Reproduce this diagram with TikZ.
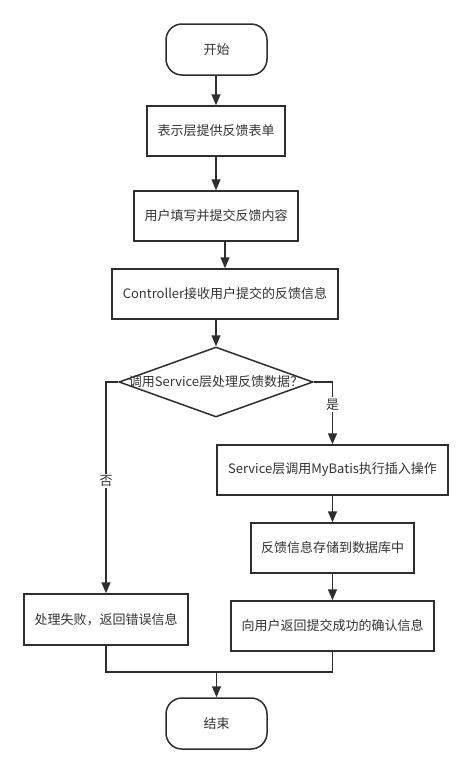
\documentclass[tikz,border=0pt]{standalone}
\usepackage{fontspec}
\newfontfamily\cjk{Noto Sans CJK SC}
\usepackage{tikz}
\usetikzlibrary{arrows.meta,shapes.geometric}
\definecolor{fcInk}{HTML}{333333}
\definecolor{fcLine}{HTML}{2E2E2E}
\tikzset{
  fc diagram/.style={x=1pt, y=-1pt, font=\cjk\fontsize{13}{15}\selectfont,
    text=fcInk},
  fc box/.style={draw=fcLine, fill=white, line width=1.5pt,
    minimum height=50pt, inner sep=0pt, align=center},
  fc term/.style={fc box, rounded corners=16pt, minimum width=101pt,
    minimum height=51pt},
  fc decision/.style={diamond, draw=fcLine, fill=white, line width=1.5pt,
    minimum width=194pt, minimum height=70pt, inner sep=0pt},
  fc arrow/.style={-{Triangle[length=11pt,width=9pt]}, draw=fcLine,
    line width=1.5pt},
  fc line/.style={draw=fcLine, line width=1.5pt},
  fc label/.style={fill=white, inner sep=1.5pt}
}
\begin{document}
\begin{tikzpicture}[fc diagram]
\useasboundingbox (0,0) rectangle (472,774);
% main column
\node[fc term] (start) at (216.5,49.5) {开始};
\node[fc box, minimum width=138pt] (show) at (216,131) {表示层提供反馈表单};
\node[fc box, minimum width=164pt] (fill) at (216,216) {用户填写并提交反馈内容};
\node[fc box, minimum width=226pt] (ctrl) at (225,294) {Controller接收用户提交的反馈信息};
\node[fc decision, label={center:调用Service层处理反馈数据？}] (check) at (216,382) {};
% branches
\node[fc box, minimum width=231pt] (svc) at (332.5,470) {Service层调用MyBatis执行插入操作};
\node[fc box, minimum width=163pt] (store) at (332.5,548) {反馈信息存储到数据库中};
\node[fc box, minimum width=203pt] (confirm) at (332.5,626) {向用户返回提交成功的确认信息};
\node[fc box, minimum width=164pt, minimum height=51pt] (fail) at (106,619.5) {处理失败，返回错误信息};
\node[fc term] (end) at (216.5,723.5) {结束};
\coordinate (join) at (216.5,672);
\foreach \a/\b in {start/show,show/fill,fill/ctrl,ctrl/check,svc/store,store/confirm}
  \draw[fc arrow] (\b.north |- \a.south) -- (\b.north);
\draw[fc arrow] (check.west) -| (fail.north) node[fc label, pos=0.735] {否};
\draw[fc arrow] (check.east) -| (svc.north) node[fc label, pos=0.68] {是};
\draw[fc line] (fail.south) |- (join);
\draw[fc line] (confirm.south) |- (join);
\draw[fc arrow] (join) -- (end);
\end{tikzpicture}
\end{document}
